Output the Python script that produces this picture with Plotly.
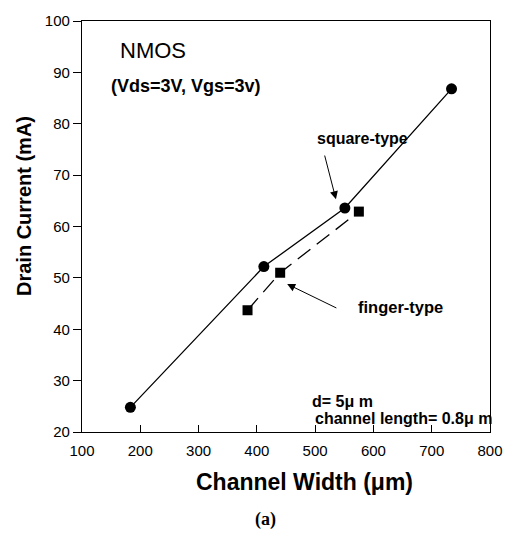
import plotly.graph_objects as go

sq_x = [183, 412, 551, 734]
sq_y = [24.8, 52.2, 63.6, 86.8]
fg_x = [384, 440, 575]
fg_y = [43.7, 51.0, 62.9]

x_ticks = [100, 200, 300, 400, 500, 600, 700, 800]
y_ticks = [20, 30, 40, 50, 60, 70, 80, 90, 100]

fig = go.Figure()
fig.add_trace(go.Scatter(x=sq_x, y=sq_y, mode="lines+markers",
                         line=dict(color="black", width=1.3),
                         marker=dict(symbol="circle", size=11, color="black"),
                         showlegend=False))
fig.add_trace(go.Scatter(x=fg_x, y=fg_y, mode="lines+markers",
                         line=dict(color="black", width=1.3, dash="16px,8px"),
                         marker=dict(symbol="square", size=10, color="black"),
                         showlegend=False))

font = "Arial, Liberation Sans, sans-serif"
fig.update_layout(
    width=515, height=533,
    margin=dict(l=82, r=14, t=15, b=101),
    paper_bgcolor="white", plot_bgcolor="white",
    font=dict(family=font, color="black", size=15),
    xaxis=dict(range=[100, 800], tickvals=x_ticks, ticks="inside", ticklen=7,
               tickcolor="black", showline=True, linecolor="black", linewidth=1.3,
               mirror=True, showgrid=False, zeroline=False, ticklabelstandoff=5),
    yaxis=dict(range=[20, 100], tickvals=y_ticks, ticks="outside", ticklen=8,
               tickcolor="black", showline=True, linecolor="black", linewidth=1.3,
               mirror=True, showgrid=False, zeroline=False),
)

fig.add_annotation(x=0.545, y=-0.122, xref="paper", yref="paper", xanchor="center", yanchor="middle",
                   text="<b>Channel Width (μm)</b>", showarrow=False, font=dict(size=23))
fig.add_annotation(x=-0.142, y=0.55, xref="paper", yref="paper", xanchor="center", yanchor="middle",
                   text="<b>Drain Current (mA)</b>", showarrow=False, textangle=-90, font=dict(size=20))
fig.add_annotation(x=222, y=94.3, text="NMOS", showarrow=False, font=dict(size=22))
fig.add_annotation(x=277, y=87.4, text="<b>(Vds=3V, Vgs=3v)</b>", showarrow=False, font=dict(size=18))
fig.add_annotation(x=581, y=77.2, text="<b>square-type</b>", showarrow=False, font=dict(size=16))
fig.add_annotation(x=535.7, y=65.3, ax=515.7, ay=74.1, axref="x", ayref="y", text="",
                   showarrow=True, arrowhead=2, arrowsize=1.6, arrowwidth=1, arrowcolor="black")
fig.add_annotation(x=646, y=44.4, text="<b>finger-type</b>", showarrow=False, font=dict(size=16.5))
fig.add_annotation(x=452, y=48.8, ax=539, ay=44.0, axref="x", ayref="y", text="",
                   showarrow=True, arrowhead=2, arrowsize=1.6, arrowwidth=1, arrowcolor="black")
fig.add_annotation(x=492, y=26.0, text="<b>d= 5μ m</b>", showarrow=False, xanchor="left", font=dict(size=16))
fig.add_annotation(x=496, y=22.7, text="<b>channel length= 0.8μ m</b>", showarrow=False, xanchor="left", font=dict(size=16))
fig.add_annotation(x=0.449, y=-0.212, xref="paper", yref="paper", xanchor="center", yanchor="middle",
                   text="<b>(a)</b>", showarrow=False,
                   font=dict(size=18, family="Liberation Serif, Times New Roman, serif"))

fig.write_html("out.html")
